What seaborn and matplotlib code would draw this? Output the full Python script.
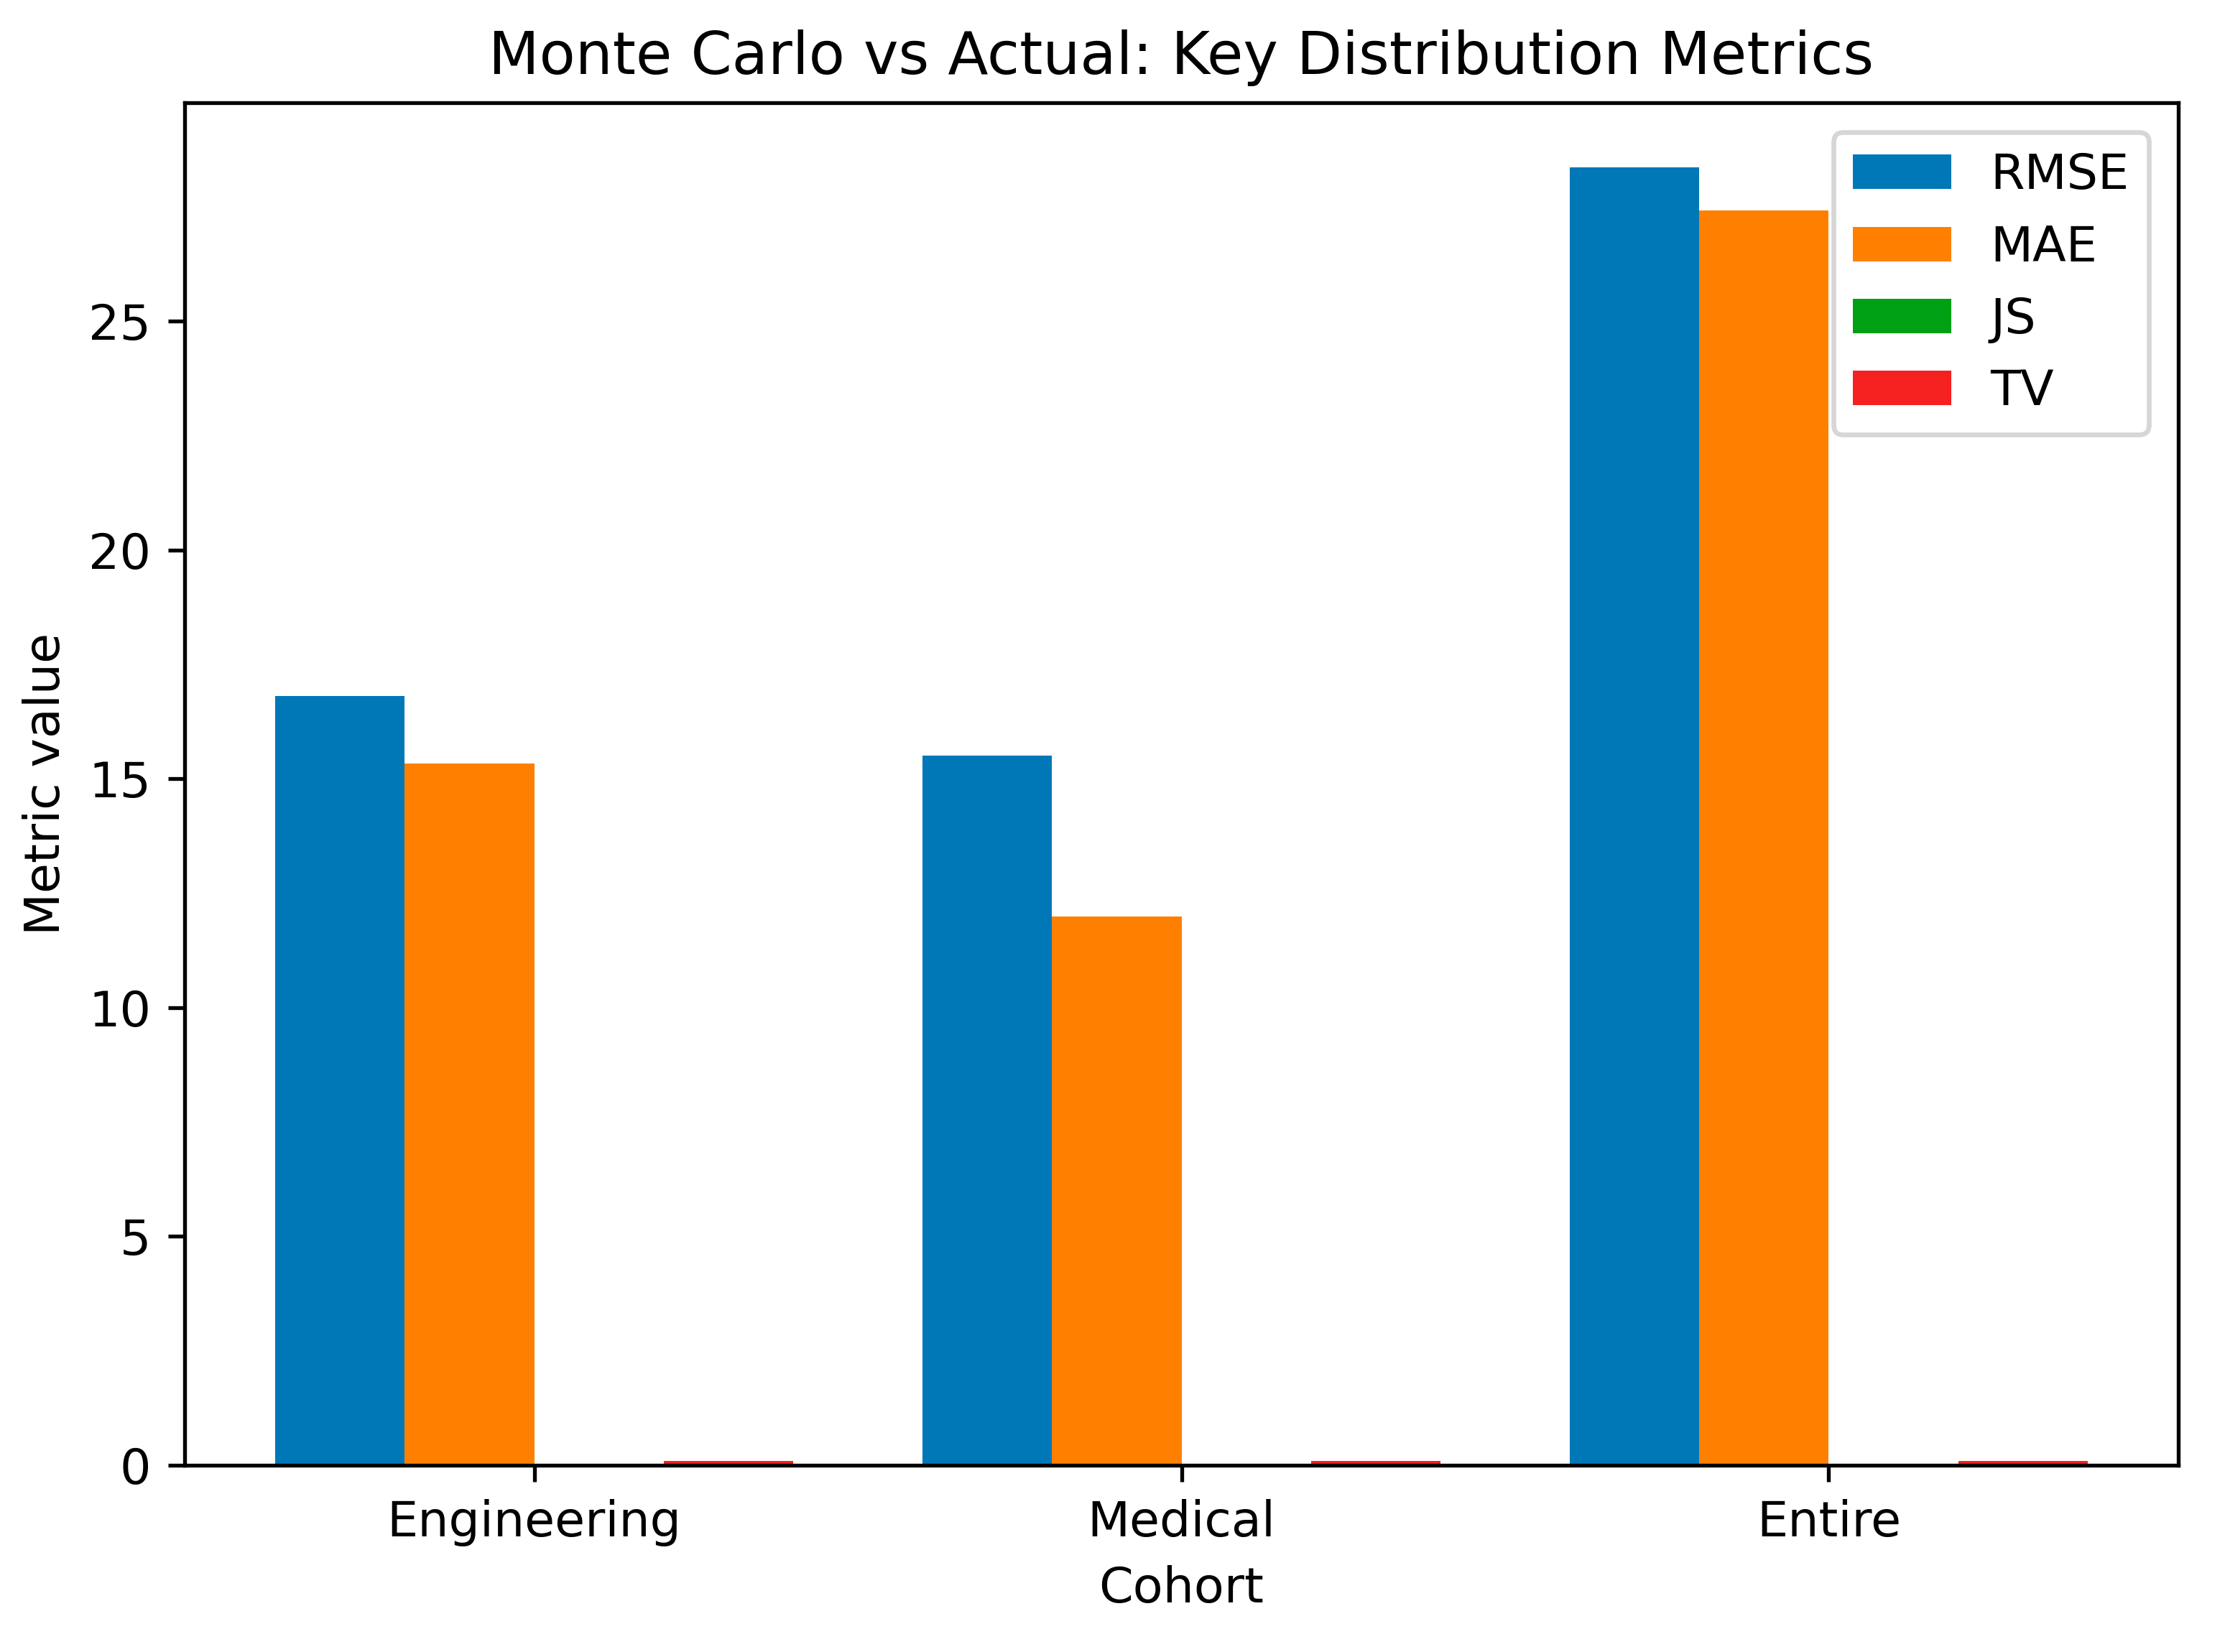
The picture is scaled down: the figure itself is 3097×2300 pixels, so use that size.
import pandas as pd
import matplotlib
matplotlib.use('Agg')
import matplotlib.pyplot as plt
import seaborn as sns

cohorts = ['Engineering', 'Medical', 'Entire']
metrics = ['RMSE', 'MAE', 'JS', 'TV']
rmse = [16.8, 15.5, 28.35]
mae = [15.34, 11.99, 27.42]
js = [0.01, 0.01, 0.01]
tv = [0.1, 0.09, 0.1]
colors = ['#0077b6', '#ff8000', '#00a014', '#f52020']

rows = []
for name, vals in zip(metrics, [rmse, mae, js, tv]):
    for c, v in zip(cohorts, vals):
        rows.append({'Cohort': c, 'Metric': name, 'value': v})
df = pd.DataFrame(rows)

plt.rcParams['font.size'] = 10.25

fig = plt.figure(figsize=(3097 / 480, 2300 / 480), dpi=480)
ax = fig.add_axes([257 / 3097, 1 - 2040 / 2300, (3032 - 257) / 3097, (2040 - 143) / 2300])

sns.barplot(data=df, x='Cohort', y='value', hue='Metric', order=cohorts, hue_order=metrics,
            palette=colors, saturation=1, errorbar=None, width=0.8, ax=ax)

ax.set_xlim(-0.54, 2.54)
ax.set_ylim(0, 29.77)
ax.set_title('Monte Carlo vs Actual: Key Distribution Metrics', fontsize=12.3)
ax.set_xlabel('Cohort')
ax.set_ylabel('Metric value')

old = ax.get_legend()
handles = old.legend_handles
labels = [t.get_text() for t in old.get_texts()]
old.remove()
ax.legend(handles, labels, loc='upper right', borderaxespad=0.6,
          fancybox=True, framealpha=0.8, edgecolor='0.8')

fig.savefig('out.png', dpi=480)
